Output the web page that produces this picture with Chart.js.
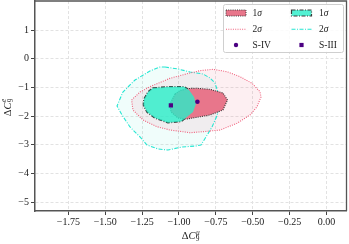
<!DOCTYPE html>
<html><head><meta charset="utf-8">
<script src="https://cdn.jsdelivr.net/npm/chart.js@4"></script>
<style>html,body{margin:0;padding:0;background:#fff}canvas{display:block}</style>
</head><body>
<canvas id="c" width="349" height="244"></canvas>
<script>
// ---- data ----
const xTicks = [-1.75, -1.5, -1.25, -1.0, -0.75, -0.5, -0.25, 0.0];
const yTicks = [-5, -4, -3, -2, -1, 0, 1];

// 2 sigma contour, cyan (dash-dot)
const cyan2X = [-1.095,-1.007,-0.925,-0.837,-0.790,-0.756,-0.736,-0.722,-0.729,-0.749,-0.776,-0.817,-0.851,-0.885,-0.980,-1.075,-1.142,-1.217,-1.264,-1.332,-1.386,-1.420,-1.380,-1.298,-1.197,-1.129];
const cyan2Y = [-0.284,-0.354,-0.459,-0.529,-0.668,-0.843,-1.157,-1.471,-1.786,-2.065,-2.379,-2.728,-3.007,-3.042,-3.077,-3.181,-3.146,-3.007,-2.728,-2.379,-1.960,-1.646,-1.157,-0.738,-0.424,-0.284];
// 2 sigma contour, red (dotted)
const red2X = [-1.321,-1.264,-1.197,-1.061,-0.925,-0.858,-0.769,-0.675,-0.586,-0.505,-0.451,-0.444,-0.471,-0.519,-0.607,-0.722,-0.837,-0.925,-1.061,-1.149,-1.244,-1.312];
const red2Y = [-1.436,-1.157,-0.972,-0.679,-0.494,-0.414,-0.365,-0.449,-0.623,-0.853,-1.147,-1.332,-1.670,-1.961,-2.250,-2.484,-2.543,-2.578,-2.484,-2.368,-2.134,-1.785];
// 1 sigma contour, cyan
const cyan1X = [-1.176,-1.061,-0.966,-0.932,-0.898,-0.885,-0.905,-0.946,-0.986,-1.075,-1.163,-1.217,-1.241,-1.237,-1.210];
const cyan1Y = [-1.017,-0.972,-0.972,-1.087,-1.332,-1.576,-1.855,-2.030,-2.187,-2.229,-2.064,-1.855,-1.611,-1.401,-1.157];
// 1 sigma contour, red
const red1X = [-1.027,-0.993,-0.939,-0.878,-0.790,-0.702,-0.671,-0.702,-0.790,-0.878,-0.946,-1.007,-1.054,-1.061];
const red1Y = [-1.227,-1.105,-1.035,-1.028,-1.063,-1.192,-1.436,-1.785,-1.960,-2.040,-2.099,-2.064,-1.855,-1.576];
// best fit points
const sIVx = [-0.875], sIVy = [-1.50];
const sIIIx = [-1.055], sIIIy = [-1.62];

// ---- styles ----
const RED1_FILL = '#e8768b';
const CYAN1_FILL = 'rgba(40,238,200,0.80)';
const RED2_LINE = '#f0607c';
const CYAN2_LINE = '#25e6d2';
const PURPLE = '#4b0082';
const FONT = '"Liberation Serif", "DejaVu Serif", serif';

function pts(xs, ys, close) {
  const a = xs.map((x, i) => ({x, y: ys[i]}));
  if (close) a.push({x: xs[0], y: ys[0]});
  return a;
}
const base = {pointRadius: 0, tension: 0, showLine: true};

const datasets = [
  Object.assign({}, base, {data: pts(cyan2X, cyan2Y, true), fill: 'shape', borderWidth: 0, backgroundColor: 'rgba(64,224,208,0.08)', order: 9}),
  Object.assign({}, base, {data: pts(red2X, red2Y, true), fill: 'shape', borderWidth: 0, backgroundColor: 'rgba(240,120,145,0.12)', order: 8}),
  Object.assign({}, base, {data: pts(cyan2X, cyan2Y, true), fill: false, borderWidth: 1.1, borderColor: CYAN2_LINE, borderDash: [4, 1.5, 1, 1.5], order: 7}),
  Object.assign({}, base, {data: pts(red2X, red2Y, true), fill: false, borderWidth: 1.1, borderColor: RED2_LINE, borderDash: [1, 1.3], order: 6}),
  Object.assign({}, base, {data: pts(cyan1X, cyan1Y, true), fill: false, borderWidth: 1.6, borderColor: '#3a3a3a', borderDash: [4, 1.5, 1, 1.5], order: 5}),
  Object.assign({}, base, {data: pts(red1X, red1Y, true), fill: 'shape', borderWidth: 0, backgroundColor: RED1_FILL, order: 4}),
  Object.assign({}, base, {data: pts(red1X, red1Y, true), fill: false, borderWidth: 1.1, borderColor: '#3a3a3a', borderDash: [1, 1.2], order: 3}),
  Object.assign({}, base, {data: pts(cyan1X, cyan1Y, true), fill: 'shape', borderWidth: 0, backgroundColor: CYAN1_FILL, order: 2}),
  {data: pts(sIVx, sIVy), showLine: false, pointStyle: 'circle', pointRadius: 2.3, backgroundColor: PURPLE, borderColor: PURPLE, borderWidth: 0, order: 1},
  {data: pts(sIIIx, sIIIy), showLine: false, pointStyle: 'rect', pointRadius: 3, backgroundColor: PURPLE, borderColor: PURPLE, borderWidth: 0, order: 0}
];

function fmt(v, d) {
  const s = Math.abs(v).toFixed(d);
  return (v < -1e-9 ? '\u2212' : '') + s;
}

function drawSym(ctx, x, y, sup, size) {
  const small = size * 0.7;
  ctx.font = size + 'px ' + FONT;
  ctx.fillText('\u0394', x, y);
  let w = ctx.measureText('\u0394').width;
  ctx.font = 'italic ' + size + 'px ' + FONT;
  ctx.fillText('C', x + w, y);
  w += ctx.measureText('C').width + 0.3;
  ctx.font = small + 'px ' + FONT;
  ctx.fillText('9', x + w, y + size * 0.22);
  const w9 = ctx.measureText('9').width;
  ctx.font = 'italic ' + small + 'px ' + FONT;
  ctx.fillText(sup, x + w + 0.3, y - size * 0.42);
  const ws = ctx.measureText(sup).width + 0.3;
  return w + Math.max(w9, ws);
}
function symWidth(ctx, sup, size) {
  const small = size * 0.7;
  ctx.font = size + 'px ' + FONT; let w = ctx.measureText('\u0394').width;
  ctx.font = 'italic ' + size + 'px ' + FONT; w += ctx.measureText('C').width + 0.3;
  ctx.font = small + 'px ' + FONT; const w9 = ctx.measureText('9').width;
  ctx.font = 'italic ' + small + 'px ' + FONT; const ws = ctx.measureText(sup).width + 0.3;
  return w + Math.max(w9, ws);
}

function sigmaLabel(ctx, txt, x, y) {
  ctx.font = '9.5px ' + FONT;
  ctx.fillText(txt, x, y);
  const w = ctx.measureText(txt).width;
  ctx.font = 'italic 9.5px ' + FONT;
  ctx.fillText('\u03c3', x + w, y);
}

const decor = {
  id: 'decor',
  afterDraw(chart) {
    const ctx = chart.ctx, a = chart.chartArea;
    ctx.save();
    ctx.strokeStyle = '#555'; ctx.lineWidth = 1.3;
    ctx.beginPath();
    ctx.moveTo(a.left, a.top); ctx.lineTo(a.right, a.top); ctx.lineTo(a.right, a.bottom);
    ctx.stroke();
    ctx.fillStyle = '#222'; ctx.textBaseline = 'alphabetic'; ctx.textAlign = 'left';
    const sz = 10.5;
    const wx = symWidth(ctx, '\u03bc', sz);
    drawSym(ctx, (a.left + a.right) / 2 - wx / 2, 239, '\u03bc', sz);
    const wy = symWidth(ctx, 'e', sz);
    ctx.save();
    ctx.translate(10.5, 107.5);
    ctx.rotate(-Math.PI / 2);
    drawSym(ctx, -wy / 2, 0, 'e', sz);
    ctx.restore();

    // legend
    const L = 223.5, T = 4.5, R = 343.5, B = 52.5;
    ctx.fillStyle = 'rgba(255,255,255,0.85)';
    ctx.strokeStyle = '#cfcfcf'; ctx.lineWidth = 1;
    ctx.beginPath();
    if (ctx.roundRect) ctx.roundRect(L, T, R - L, B - T, 2); else ctx.rect(L, T, R - L, B - T);
    ctx.fill(); ctx.stroke();
    const rows = [13, 29.3, 45];
    const c1 = 226, c2 = 291.5, pw = 20, ph = 6;
    ctx.fillStyle = RED1_FILL; ctx.fillRect(c1, rows[0] - ph / 2, pw, ph);
    ctx.strokeStyle = '#3a3a3a'; ctx.lineWidth = 1; ctx.setLineDash([1, 1.2]);
    ctx.strokeRect(c1, rows[0] - ph / 2, pw, ph);
    ctx.fillStyle = CYAN1_FILL; ctx.fillRect(c2, rows[0] - ph / 2, pw, ph);
    ctx.setLineDash([4, 1.5, 1, 1.5]); ctx.lineWidth = 1.2;
    ctx.strokeRect(c2, rows[0] - ph / 2, pw, ph);
    ctx.lineWidth = 1.1;
    ctx.strokeStyle = RED2_LINE; ctx.setLineDash([1, 1.3]);
    ctx.beginPath(); ctx.moveTo(c1, rows[1]); ctx.lineTo(c1 + pw, rows[1]); ctx.stroke();
    ctx.strokeStyle = CYAN2_LINE; ctx.setLineDash([4, 1.5, 1, 1.5]);
    ctx.beginPath(); ctx.moveTo(c2, rows[1]); ctx.lineTo(c2 + pw, rows[1]); ctx.stroke();
    ctx.setLineDash([]);
    ctx.fillStyle = PURPLE;
    ctx.beginPath(); ctx.arc(c1 + pw / 2, rows[2], 2.2, 0, Math.PI * 2); ctx.fill();
    ctx.fillRect(c2 + pw / 2 - 2.1, rows[2] - 2.1, 4.2, 4.2);
    ctx.fillStyle = '#222'; ctx.textBaseline = 'middle';
    const t1 = 252.5, t2 = 319;
    sigmaLabel(ctx, '1', t1, rows[0] + 0.5);
    sigmaLabel(ctx, '1', t2, rows[0] + 0.5);
    sigmaLabel(ctx, '2', t1, rows[1] + 0.5);
    sigmaLabel(ctx, '2', t2, rows[1] + 0.5);
    ctx.font = '9.5px ' + FONT;
    ctx.fillText('S-IV', t1, rows[2] + 0.5);
    ctx.fillText('S-III', t2, rows[2] + 0.5);
    ctx.restore();
  }
};

new Chart(document.getElementById('c'), {
  type: 'scatter',
  data: {datasets},
  options: {
    responsive: false,
    animation: false,
    devicePixelRatio: 1,
    layout: {autoPadding: false, padding: {left: 0, right: 2.5, top: 1, bottom: 0}},
    plugins: {legend: {display: false}, tooltip: {enabled: false}, filler: {propagate: false}},
    scales: {
      x: {
        type: 'linear', min: -1.976, max: 0.1356,
        afterBuildTicks: s => { s.ticks = xTicks.map(v => ({value: v})); },
        afterFit: s => { s.height = 33; s.paddingLeft = 0; s.paddingRight = 0; s.paddingTop = 0; s.paddingBottom = 0; },
        ticks: {callback: v => fmt(v, 2), font: {family: FONT, size: 10}, color: '#222', padding: 1, maxRotation: 0, autoSkip: false},
        grid: {color: '#e2e2e2', lineWidth: 1, drawTicks: true, tickLength: 4, tickColor: '#444', tickWidth: 1},
        border: {display: true, color: '#555', width: 1.5, dash: [3, 2]}
      },
      y: {
        type: 'linear', min: -5.311, max: 2.019,
        afterBuildTicks: s => { s.ticks = yTicks.map(v => ({value: v})); },
        afterFit: s => { s.width = 35; s.paddingLeft = 0; s.paddingRight = 0; s.paddingTop = 0; s.paddingBottom = 0; },
        ticks: {callback: v => fmt(v, 0), font: {family: FONT, size: 10}, color: '#222', padding: 2, autoSkip: false},
        grid: {color: '#e2e2e2', lineWidth: 1, drawTicks: true, tickLength: 4, tickColor: '#444', tickWidth: 1},
        border: {display: true, color: '#555', width: 1.5, dash: [3, 2]}
      }
    }
  },
  plugins: [decor]
});
</script>
</body></html>
